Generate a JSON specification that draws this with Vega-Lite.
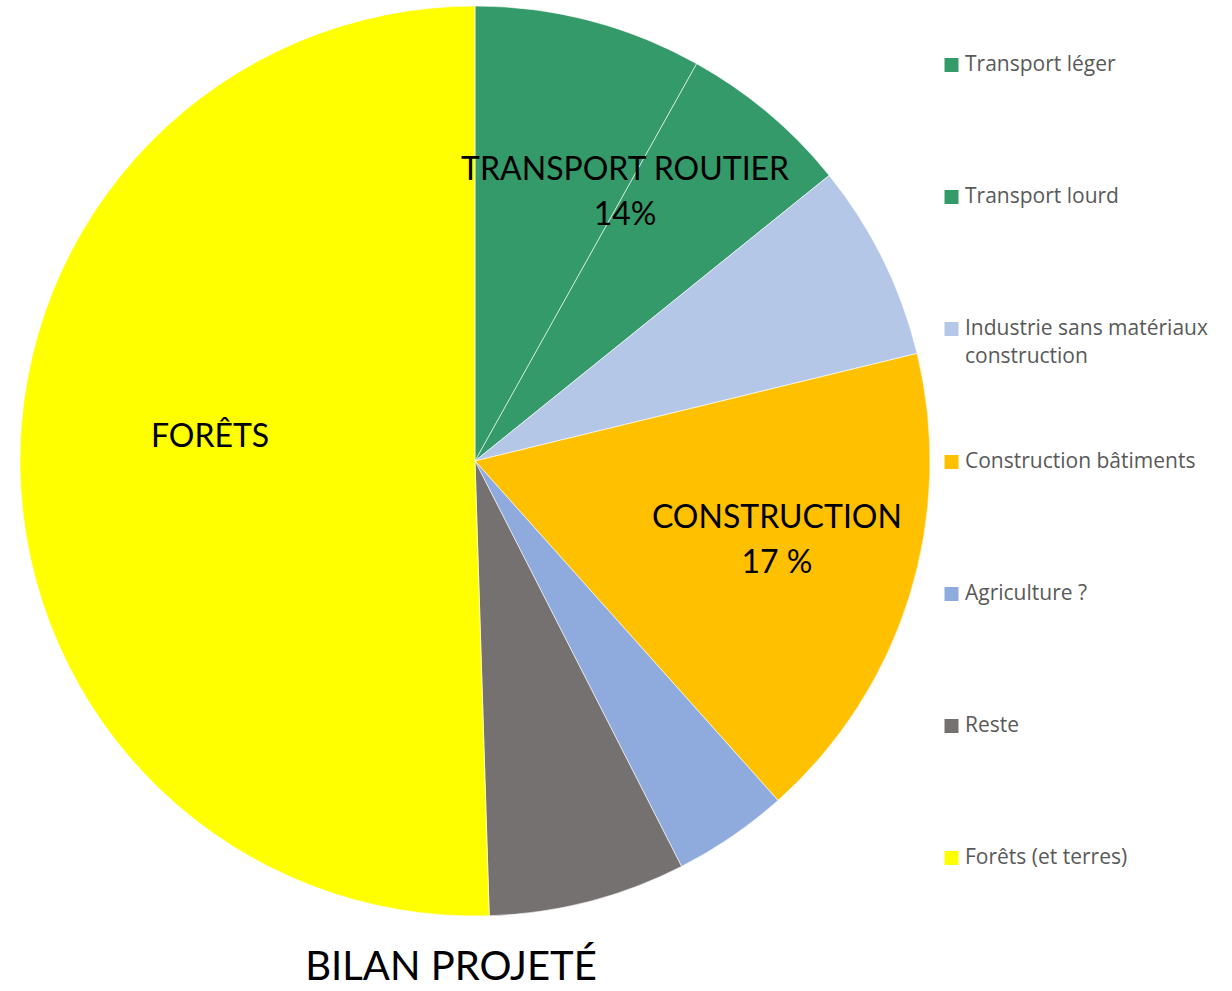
{
  "$schema": "https://vega.github.io/schema/vega-lite/v6.json",
  "width": 950,
  "height": 922,
  "autosize": {"type": "none"},
  "padding": {"left": 0, "top": 0, "right": 282, "bottom": 69},
  "background": "white",
  "view": {"stroke": null},
  "config": {"style": {"guide-label": {"lineHeight": 28}}},
  "title": {"text": "BILAN PROJETÉ", "orient": "bottom", "anchor": "middle", "fontSize": 40, "font": "Lato", "fontWeight": "normal", "color": "#000000", "offset": 26, "dx": -24},
  "data": {"values": [
    {"categorie": "Transport léger", "groupe": "Transport routier", "etiquette": "TRANSPORT ROUTIER|14%", "ordre": 1, "valeur": 8.1},
    {"categorie": "Transport lourd", "groupe": "Transport routier", "etiquette": "TRANSPORT ROUTIER|14%", "ordre": 2, "valeur": 6.1},
    {"categorie": "Industrie sans matériaux construction", "groupe": "Industrie", "etiquette": "", "ordre": 3, "valeur": 7.0},
    {"categorie": "Construction bâtiments", "groupe": "Construction", "etiquette": "CONSTRUCTION|17 %", "ordre": 4, "valeur": 17.2},
    {"categorie": "Agriculture ?", "groupe": "Agriculture", "etiquette": "", "ordre": 5, "valeur": 4.1},
    {"categorie": "Reste", "groupe": "Reste", "etiquette": "", "ordre": 6, "valeur": 7.0},
    {"categorie": "Forêts (et terres)", "groupe": "Forêts", "etiquette": "FORÊTS", "ordre": 7, "valeur": 50.5}
  ]},
  "layer": [
    {
      "mark": {"type": "arc", "outerRadius": 455, "stroke": "white", "strokeWidth": 0.6},
      "encoding": {
        "theta": {"field": "valeur", "type": "quantitative", "stack": true},
        "order": {"field": "ordre", "type": "quantitative", "sort": "ascending"},
        "color": {
          "field": "categorie",
          "type": "nominal",
          "sort": ["Transport léger", "Transport lourd", "Industrie sans matériaux construction", "Construction bâtiments", "Agriculture ?", "Reste", "Forêts (et terres)"],
          "scale": {
            "domain": ["Transport léger", "Transport lourd", "Industrie sans matériaux construction", "Construction bâtiments", "Agriculture ?", "Reste", "Forêts (et terres)"],
            "range": ["#359A6A", "#359A6A", "#B4C7E7", "#FFC000", "#8FAADC", "#767171", "#FFFF00"]
          },
          "legend": {
            "orient": "none",
            "legendX": 941,
            "legendY": 28,
            "padding": 0,
            "title": null,
            "symbolType": "square",
            "symbolSize": 196,
            "symbolStrokeWidth": 0,
            "labelFontSize": 21,
            "labelFont": "Open Sans",
            "labelColor": "#595959",
            "clipHeight": 74,
            "rowPadding": 58,
            "labelOffset": 3,
            "labelLimit": 300,
            "labelExpr": "datum.label == 'Industrie sans matériaux construction' ? ['Industrie sans matériaux', 'construction'] : datum.label"
          }
        }
      }
    },
    {
      "transform": [
        {"aggregate": [{"op": "sum", "field": "valeur", "as": "valeur"}, {"op": "min", "field": "ordre", "as": "ordre"}], "groupby": ["groupe", "etiquette"]},
        {"calculate": "split(datum.etiquette, '|')", "as": "lignes"}
      ],
      "mark": {"type": "text", "radius": 290, "fontSize": 32, "font": "Lato", "color": "#000000", "align": "center", "baseline": "middle", "lineHeight": 45, "dx": 25, "dy": -29},
      "encoding": {
        "theta": {"field": "valeur", "type": "quantitative", "stack": true},
        "order": {"field": "ordre", "type": "quantitative", "sort": "ascending"},
        "text": {"field": "lignes"}
      }
    }
  ]
}
